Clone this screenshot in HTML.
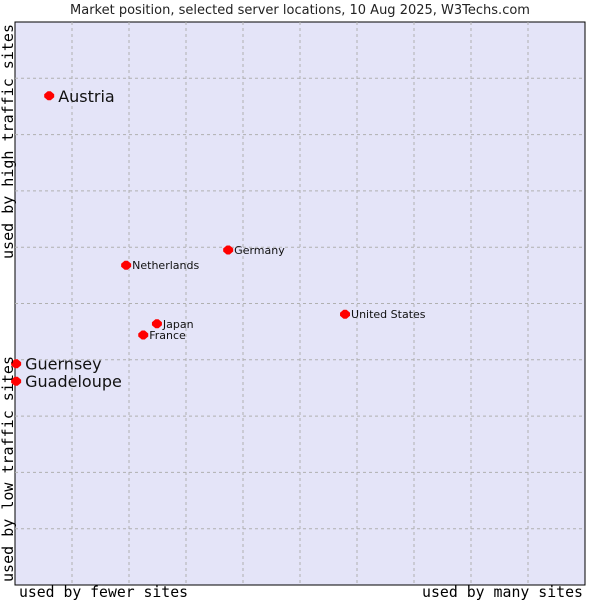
<!DOCTYPE html>
<html><head><meta charset="utf-8"><style>
body{margin:0;background:#fff;width:600px;height:600px;overflow:hidden}
svg{display:block}
</style></head><body>
<svg id="chart" width="600" height="600" xmlns="http://www.w3.org/2000/svg">
<text x="300" y="14" text-anchor="middle" font-family="DejaVu Sans, sans-serif" font-size="13" fill="#222">Market position, selected server locations, 10 Aug 2025, W3Techs.com</text>
<rect x="15" y="22" width="570" height="563" fill="#e4e4f8" stroke="#000" stroke-width="1"/>
<g id="grid"></g>
<g id="points"></g>
<text x="19" y="597" textLength="169" lengthAdjust="spacingAndGlyphs" font-family="DejaVu Sans Mono, monospace" font-size="15" fill="#000">used by fewer sites</text>
<text x="422" y="597" textLength="161" lengthAdjust="spacingAndGlyphs" font-family="DejaVu Sans Mono, monospace" font-size="15" fill="#000">used by many sites</text>
<text transform="translate(13,582) rotate(-90)" textLength="226" lengthAdjust="spacingAndGlyphs" font-family="DejaVu Sans Mono, monospace" font-size="15" fill="#000">used by low traffic sites</text>
<text transform="translate(13,259) rotate(-90)" textLength="235" lengthAdjust="spacingAndGlyphs" font-family="DejaVu Sans Mono, monospace" font-size="15" fill="#000">used by high traffic sites</text>
</svg>
<script>
const names = ["Austria","Netherlands","Germany","United States","Japan","France","Guernsey","Guadeloupe"];
const xValues = [6.0,19.5,37.4,57.9,24.9,22.5,0.2,0.2];
const yValues = [86.9,56.8,59.5,48.1,46.4,44.4,39.3,36.2];
const highlighted = [true,false,false,false,false,false,true,true];
const L=15,T=22,W=570,H=563;
const sx=v=>L+v/100*W, sy=v=>T+H-v/100*H;
const NS="http://www.w3.org/2000/svg";
const grid=document.getElementById('grid');
for(let i=1;i<10;i++){
  const v=document.createElementNS(NS,'line');
  
  
  v.setAttribute('x1',sx(i*10));v.setAttribute('x2',sx(i*10));v.setAttribute('y1',T);v.setAttribute('y2',T+H);
  v.setAttribute('stroke','#b0b0b0');v.setAttribute('stroke-dasharray','3,3');
  grid.appendChild(v);
  const h=document.createElementNS(NS,'line');
  
  
  h.setAttribute('y1',sy(i*10));h.setAttribute('y2',sy(i*10));h.setAttribute('x1',L);h.setAttribute('x2',L+W);
  h.setAttribute('stroke','#b0b0b0');h.setAttribute('stroke-dasharray','3,3');
  grid.appendChild(h);
}
const pts=document.getElementById('points');
names.forEach((n,i)=>{
  const x=sx(xValues[i]),y=sy(yValues[i]);
  const d=document.createElementNS(NS,'polygon');
  
  
  const r=5;
  d.setAttribute('points',`${x-1.5},${y-r+0.5} ${x+1.5},${y-r+0.5} ${x+r},${y-1.5} ${x+r},${y+1.5} ${x+1.5},${y+r-0.5} ${x-1.5},${y+r-0.5} ${x-r},${y+1.5} ${x-r},${y-1.5}`);
  d.setAttribute('fill','#f00');
  pts.appendChild(d);
  const t=document.createElementNS(NS,'text');
  
  
  const big=highlighted[i];
  t.setAttribute('x',x+(big?9:6));
  t.setAttribute('y',y+(big?6:4));
  t.setAttribute('font-family','DejaVu Sans, sans-serif');
  t.setAttribute('font-size',big?16:11);
  t.setAttribute('fill','#111');
  t.textContent=n;
  pts.appendChild(t);
});
</script>
</body></html>
